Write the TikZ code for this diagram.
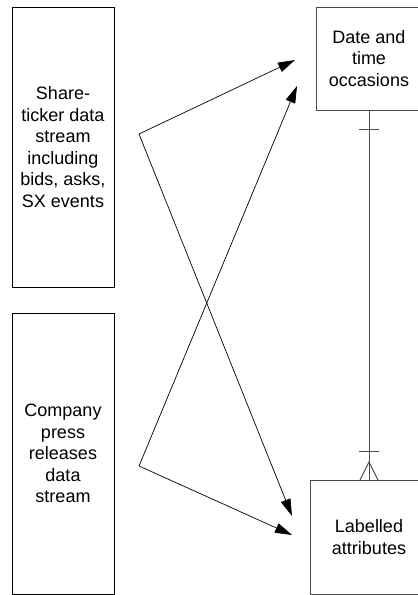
\documentclass[tikz,border=0pt]{standalone}
\usepackage{fontspec}
\setmainfont{Liberation Sans}
\usetikzlibrary{arrows.meta,calc}
\begin{document}
\begin{tikzpicture}[x=1pt,y=-1pt,
		box/.style={draw,line width=0.8pt,inner sep=0pt,outer sep=0pt,align=center,font=\fontsize{18}{21.5}\selectfont},
		flow/.style={-{Triangle[length=17pt,width=10pt]},line width=0.7pt},
		link/.style={draw=black!70,line width=1pt}]
	\useasboundingbox (0,0) rectangle (418,595);
	\clip (0,0) rectangle (418,595);
	% source streams
	\node[box,minimum width=102pt,minimum height=280pt] (ticker) at (63,147) {Share-\\ticker data\\stream\\including\\bids, asks,\\SX events};
	\node[box,minimum width=102pt,minimum height=281pt] (press) at (63,453.5) {Company\\press\\releases\\data\\stream};
	% entities (cut at the right edge)
	\node[box,draw=black!70,minimum width=106pt,minimum height=103pt] (dates) at (369,58.5) {Date and\\time\\occasions};
	\node[box,draw=black!70,minimum width=118pt,minimum height=114pt] (attrs) at (369,537) {Labelled\\attributes};
	% arrow ends
	\coordinate (src1) at (139,134);
	\coordinate (src2) at (139,466);
	\coordinate (dt1) at (295,60);
	\coordinate (dt2) at (297,86);
	\coordinate (la1) at (292,516);
	\coordinate (la2) at (292,535);
	\draw[flow] (src1) -- (dt1);
	\draw[flow] (src1) -- (la1);
	\draw[flow] (src2) -- (dt2);
	\draw[flow] (src2) -- (la2);
	% one-to-many relation
	\draw[link] (dates.south) -- (attrs.north);
	\draw[link] ($(dates.south)+(-10,19)$) -- ($(dates.south)+(10,19)$);
	\draw[link] ($(attrs.north)+(-10,-29)$) -- ($(attrs.north)+(10,-29)$);
	\draw[link] ($(attrs.north)+(-9,0)$) -- ($(attrs.north)+(0,-18)$) -- ($(attrs.north)+(9,0)$);
\end{tikzpicture}
\end{document}
